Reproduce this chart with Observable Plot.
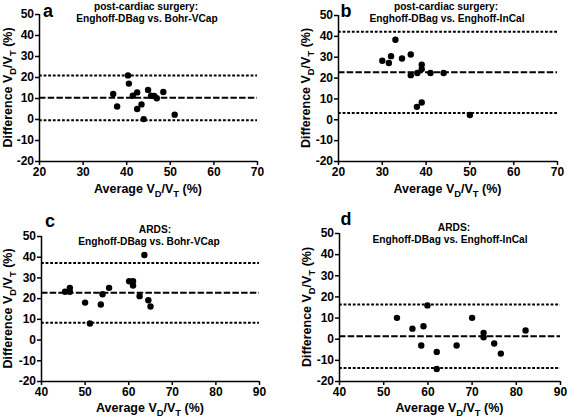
<!DOCTYPE html>
<html>
<head>
<meta charset="utf-8">
<script src="https://cdn.jsdelivr.net/npm/d3@7"></script>
<script src="https://cdn.jsdelivr.net/npm/@observablehq/plot@0.6"></script>
<style>
  html, body { margin: 0; padding: 0; background: #fff; }
  #grid { display: grid; grid-template-columns: 283px 284px; grid-template-rows: 208px 209px; width: 567px; height: 417px; }
  #grid svg { display: block; }
</style>
</head>
<body>
<div id="grid"></div>
<script>
// ---- data ----
const yTicks = [-20, -10, 0, 10, 20, 30, 40, 50];
const xTicksTop = [20, 30, 40, 50, 60, 70];
const xTicksBottom = [40, 50, 60, 70, 80, 90];

// a: post-cardiac surgery, Enghoff-DBag vs. Bohr-VCap
const aAvg  = [36.9, 37.8, 40.3, 40.5, 41.4, 42.4, 42.4, 43.4, 43.9, 44.9, 45.6, 46.3, 46.9, 48.4, 51.0];
const aDiff = [12.2, 6.2, 21.0, 17.1, 11.3, 12.9, 5.0, 7.2, 0.2, 14.1, 11.3, 11.2, 10.1, 13.1, 2.3];
const aLoA  = [21.0, -0.4];
const aMean = [10.3];

// b: post-cardiac surgery, Enghoff-DBag vs. Enghoff-InCal
const bAvg  = [30.0, 31.5, 32.0, 33.0, 34.5, 36.5, 36.5, 38.0, 39.0, 39.0, 41.0, 44.0, 37.9, 39.0, 50.0];
const bDiff = [28.3, 27.2, 30.5, 38.4, 29.4, 31.3, 21.4, 22.4, 26.4, 24.3, 22.4, 22.4, 6.2, 8.3, 2.3];
const bLoA  = [42.2, 3.3];
const bMean = [22.8];

// c: ARDS, Enghoff-DBag vs. Bohr-VCap
const cAvg  = [45.4, 46.5, 46.5, 50.0, 51.1, 53.6, 54.0, 55.5, 60.1, 61.0, 61.0, 63.6, 62.5, 64.5, 65.0];
const cDiff = [23.3, 25.2, 23.3, 18.1, 8.0, 17.2, 22.1, 25.2, 28.4, 28.4, 26.3, 41.1, 21.2, 19.2, 16.2];
const cLoA  = [37.2, 8.4];
const cMean = [22.8];

// d: ARDS, Enghoff-DBag vs. Enghoff-InCal
const dAvg  = [53.0, 56.5, 59.0, 58.5, 59.9, 62.0, 62.0, 66.5, 70.0, 72.6, 72.6, 75.0, 76.5, 82.1];
const dDiff = [10.1, 5.0, 6.1, -3.0, 16.0, -6.0, -14.1, -3.0, 10.1, 3.0, 0.9, -2.0, -6.8, 4.1];
const dLoA  = [16.4, -13.6];
const dMean = [1.4];

const FONT = "'Liberation Sans', Arial, Helvetica, sans-serif";

function addVdVt(textSel, prefix) {
  textSel.append("tspan").text(prefix + "V");
  textSel.append("tspan").attr("dy", 3.5).attr("font-size", "0.75em").text("D");
  textSel.append("tspan").attr("dy", -3.5).text("/V");
  textSel.append("tspan").attr("dy", 3.5).attr("font-size", "0.75em").text("T");
  textSel.append("tspan").attr("dy", -3.5).text(" (%)");
}

function panel(cfg) {
  const avg = cfg.avg, diff = cfg.diff;
  const pts = avg.map((v, i) => ({avg: v, diff: diff[i]}));
  const node = Plot.plot({
    width: cfg.width,
    height: cfg.height,
    marginLeft: cfg.ml, marginRight: cfg.mr, marginTop: cfg.mt, marginBottom: cfg.mb,
    style: {fontFamily: FONT, fontSize: "12px", fontWeight: "bold", color: "black", background: "white"},
    x: {domain: cfg.xDomain, ticks: cfg.xTicks},
    y: {domain: [-20, 50], ticks: yTicks},
    marks: [
      Plot.ruleY(cfg.loa, {stroke: "black", strokeWidth: 2, strokeDasharray: "2.8,1.8"}),
      Plot.ruleY(cfg.mean, {stroke: "black", strokeWidth: 2, strokeDasharray: "6.5,2.2"}),
      Plot.dot(pts, {x: "avg", y: "diff", r: 3.2, fill: "black", stroke: "none"}),
      Plot.ruleX([cfg.xDomain[0]], {stroke: "black", strokeWidth: 1.5}),
      Plot.ruleY([-20], {stroke: "black", strokeWidth: 1.5}),
      Plot.axisX({ticks: cfg.xTicks, tickSize: 4, tickPadding: 2, strokeWidth: 1.5, label: null, tickFormat: d => `${d}`}),
      Plot.axisY({ticks: yTicks, tickSize: 4, tickPadding: 1.5, strokeWidth: 1.5, label: null, tickFormat: d => `${d}`})
    ]
  });
  const svg = d3.select(node);
  const g = svg.append("g").attr("font-family", FONT).attr("font-weight", "bold").attr("fill", "black");
  g.append("text").attr("x", cfg.letterX).attr("y", cfg.letterY).attr("font-size", 18).text(cfg.letter);
  g.append("text").attr("x", cfg.t1x).attr("y", cfg.t1y).attr("font-size", 10.2).attr("text-anchor", "middle").text(cfg.title1);
  g.append("text").attr("x", cfg.t2x).attr("y", cfg.t2y).attr("font-size", 10.2).attr("text-anchor", "middle").text(cfg.title2);
  const cx = cfg.ml + (cfg.width - cfg.ml - cfg.mr) / 2;
  const cy = cfg.mt + (cfg.height - cfg.mt - cfg.mb) / 2;
  const xl = g.append("text").attr("x", cx).attr("y", cfg.height - cfg.mb + cfg.xlOff).attr("font-size", 12.5).attr("text-anchor", "middle");
  addVdVt(xl, "Average ");
  const yl = g.append("text").attr("transform", `translate(${cfg.ylx},${cy}) rotate(-90)`).attr("font-size", 12.5).attr("text-anchor", "middle");
  addVdVt(yl, "Difference ");
  return node;
}

const grid = document.getElementById("grid");
grid.append(panel({
  avg: aAvg, diff: aDiff, loa: aLoA, mean: aMean, xDomain: [20, 70], xTicks: xTicksTop,
  width: 283, height: 208, ml: 39, mr: 26, mt: 14, mb: 47,
  letter: "a", letterX: 48, letterY: 16.5,
  title1: "post-cardiac surgery:", t1x: 146, t1y: 9.5,
  title2: "Enghoff-DBag vs. Bohr-VCap", t2x: 147, t2y: 21.5,
  xlOff: 32, ylx: 12
}));
grid.append(panel({
  avg: bAvg, diff: bDiff, loa: bLoA, mean: bMean, xDomain: [20, 70], xTicks: xTicksTop,
  width: 284, height: 208, ml: 55, mr: 10, mt: 15, mb: 47,
  letter: "b", letterX: 63, letterY: 16.5,
  title1: "post-cardiac surgery:", t1x: 163, t1y: 10,
  title2: "Enghoff-DBag vs. Enghoff-InCal", t2x: 164, t2y: 21.5,
  xlOff: 32, ylx: 27
}));
grid.append(panel({
  avg: cAvg, diff: cDiff, loa: cLoA, mean: cMean, xDomain: [40, 90], xTicks: xTicksBottom,
  width: 283, height: 209, ml: 41, mr: 24, mt: 28, mb: 36,
  letter: "c", letterX: 50, letterY: 18.5,
  title1: "ARDS:", t1x: 155, t1y: 24.5,
  title2: "Enghoff-DBag vs. Bohr-VCap", t2x: 149, t2y: 36.5,
  xlOff: 31, ylx: 12
}));
grid.append(panel({
  avg: dAvg, diff: dDiff, loa: dLoA, mean: dMean, xDomain: [40, 90], xTicks: xTicksBottom,
  width: 284, height: 209, ml: 56, mr: 7, mt: 25, mb: 36,
  letter: "d", letterX: 63, letterY: 17,
  title1: "ARDS:", t1x: 171, t1y: 23,
  title2: "Enghoff-DBag vs. Enghoff-InCal", t2x: 167, t2y: 34.5,
  xlOff: 31, ylx: 28
}));
</script>
</body>
</html>
